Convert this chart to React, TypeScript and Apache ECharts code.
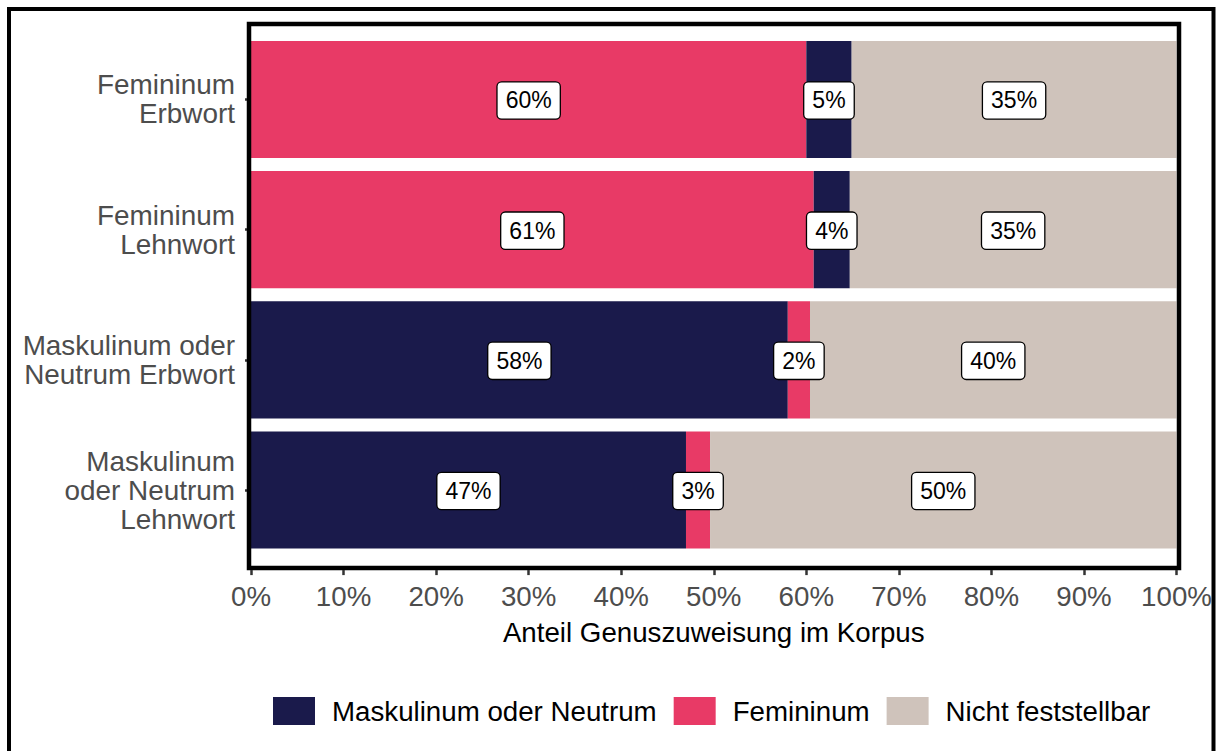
import React, { useEffect, useRef } from "react";
import * as echarts from "echarts";

// Rows, top to bottom
const categories = [
  "Femininum\nErbwort",
  "Femininum\nLehnwort",
  "Maskulinum oder\nNeutrum Erbwort",
  "Maskulinum\noder Neutrum\nLehnwort",
];

// Shares in percent per row
const femininumFirst = [60.0, 60.8, null, null]; // feminine rows start with Femininum
const maskulinum = [4.9, 3.9, 58.0, 47.0];
const femininumAfter = [null, null, 2.4, 2.6]; // masculine/neuter rows start with Maskulinum
const nichtFeststellbar = [35.1, 35.3, 39.6, 50.4];

const xTicks = [0, 10, 20, 30, 40, 50, 60, 70, 80, 90, 100];
const legendNames = ["Maskulinum oder Neutrum", "Femininum", "Nicht feststellbar"];

const COLORS = {
  mask: "#1A1A4B",
  fem: "#E83A66",
  nicht: "#CFC3BB",
};

const FONT = "'Liberation Sans', Arial, Helvetica, sans-serif";

export default function App() {
  const ref = useRef<HTMLDivElement>(null);

  useEffect(() => {
    if (!ref.current) return;
    const chart = echarts.init(ref.current, undefined, { renderer: "svg" });

    const barLabel = {
      show: true,
      position: "inside",
      offset: [0, 1],
      formatter: (p: any) => `${Math.round(p.value)}%`,
      color: "#000",
      fontFamily: FONT,
      fontSize: 23,
      lineHeight: 23,
      backgroundColor: "#fff",
      borderColor: "#000",
      borderWidth: 1.3,
      borderRadius: 4,
      padding: [6.5, 8, 6.5, 8],
    };

    const mk = (name: string, data: (number | null)[], color: string) => ({
      type: "bar",
      name,
      stack: "total",
      barWidth: "90%",
      data: data.map((v) => (v === null ? "-" : v)),
      itemStyle: { color },
      label: barLabel,
      emphasis: { disabled: true },
    });

    chart.setOption({
      animation: false,
      textStyle: { fontFamily: FONT },
      grid: { left: 251, right: 43.5, top: 34.4, height: 520.7 },
      xAxis: {
        type: "value",
        min: xTicks[0],
        max: xTicks[xTicks.length - 1],
        interval: 10,
        offset: 15,
        axisLine: { show: false },
        axisTick: { show: true, length: 5, lineStyle: { color: "#333", width: 2.5 } },
        splitLine: { show: false },
        axisLabel: {
          formatter: "{value}%",
          color: "#4d4d4d",
          fontSize: 27.7,
          fontFamily: FONT,
          margin: 12,
        },
        name: "Anteil Genuszuweisung im Korpus",
        nameLocation: "middle",
        nameGap: 48,
        nameTextStyle: { color: "#000", fontSize: 27.7, fontFamily: FONT },
      },
      yAxis: {
        type: "category",
        data: categories,
        inverse: true,
        offset: 4,
        axisLine: { show: false },
        axisTick: {
          show: true,
          alignWithLabel: true,
          length: 6,
          lineStyle: { color: "#333", width: 2.5 },
        },
        axisLabel: {
          color: "#4d4d4d",
          fontSize: 27.9,
          lineHeight: 29,
          fontFamily: FONT,
          margin: 12,
          align: "right",
          padding: [4, 0, 0, 0],
        },
      },
      legend: {
        data: legendNames,
        left: 273,
        top: 697,
        padding: 0,
        icon: "rect",
        itemWidth: 42,
        itemHeight: 28,
        itemGap: 17,
        selectedMode: false,
        textStyle: {
          color: "#000",
          fontSize: 27.7,
          fontFamily: FONT,
          padding: [0, 0, 0, 12],
        },
      },
      series: [
        mk("Femininum", femininumFirst, COLORS.fem),
        mk("Maskulinum oder Neutrum", maskulinum, COLORS.mask),
        mk("Femininum", femininumAfter, COLORS.fem),
        mk("Nicht feststellbar", nichtFeststellbar, COLORS.nicht),
      ],
      graphic: [
        {
          type: "rect",
          z: 100,
          silent: true,
          shape: { x: 249, y: 24, width: 930, height: 544 },
          style: { fill: "none", stroke: "#000", lineWidth: 4.5 },
        },
        {
          type: "rect",
          z: 100,
          silent: true,
          shape: { x: 9, y: 9, width: 1204.5, height: 760 },
          style: { fill: "none", stroke: "#000", lineWidth: 4 },
        },
      ],
    });

    return () => chart.dispose();
  }, []);

  return (
    <div
      ref={ref}
      style={{ position: "fixed", left: 0, top: 0, width: 1220, height: 751, background: "#fff" }}
    />
  );
}
